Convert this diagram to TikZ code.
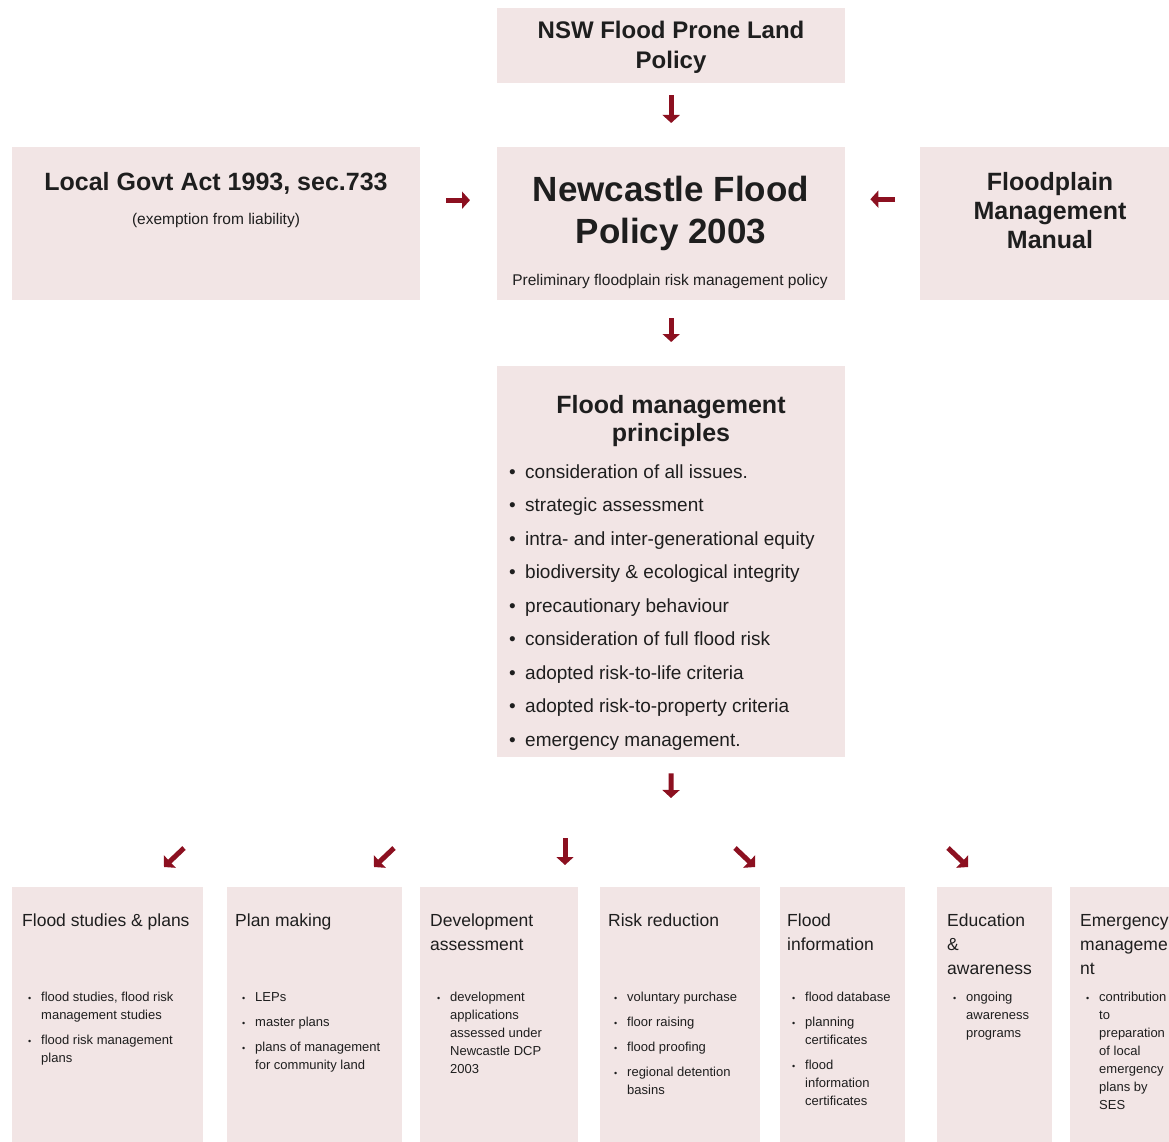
\documentclass[tikz,border=0pt]{standalone}
\usepackage{fontspec}
\setmainfont{Liberation Sans}
\usetikzlibrary{arrows.meta}
\definecolor{boxpink}{RGB}{242,229,229}
\definecolor{arrowred}{RGB}{140,16,32}
\definecolor{txt}{RGB}{30,30,30}
\newcommand\ctab[1]{\begin{tabular}[t]{@{}c@{}}#1\end{tabular}}
\newcommand\ltab[1]{\begin{tabular}[t]{@{}l@{}}#1\end{tabular}}
\newcommand\btab[1]{\begin{tabular}[t]{@{}l@{}l@{}}#1\end{tabular}}
\newcommand\bigbu{\makebox[16pt][l]{\textbullet}}
\newcommand\smbu{\makebox[13pt][l]{\fontsize{9}{9}\selectfont\textbullet}}
\begin{document}
\begin{tikzpicture}[x=1pt,y=-1pt,
  pbox/.style={fill=boxpink, draw=none, inner sep=0pt, anchor=north west},
  lbl/.style={inner sep=0pt, text=txt},
  arr/.style={draw=arrowred, line width=5pt, -{Triangle[length=8pt,width=17pt]}},
  ttl/.style={lbl, anchor=base west, font=\fontsize{17.5}{24}\selectfont},
  blst/.style={lbl, anchor=base west, font=\fontsize{13}{18}\selectfont},
]
\useasboundingbox (0,0) rectangle (1169,1142);
\clip (0,0) rectangle (1169,1142);
\fill[white] (0,0) rectangle (1169,1142);

% boxes
\node[pbox, minimum width=348pt, minimum height=75pt] (nsw) at (497,8) {};
\node[pbox, minimum width=408pt, minimum height=153pt] (lga) at (12,147) {};
\node[pbox, minimum width=348pt, minimum height=153pt] (nfp) at (497,147) {};
\node[pbox, minimum width=260pt, minimum height=153pt] (fmm) at (920,147) {};
\node[pbox, minimum width=348pt, minimum height=391pt] (fmp) at (497,366) {};
\node[pbox, minimum width=191pt, minimum height=263pt] (b1) at (12,887) {};
\node[pbox, minimum width=175pt, minimum height=263pt] (b2) at (227,887) {};
\node[pbox, minimum width=158pt, minimum height=263pt] (b3) at (420,887) {};
\node[pbox, minimum width=160pt, minimum height=263pt] (b4) at (600,887) {};
\node[pbox, minimum width=125pt, minimum height=263pt] (b5) at (780,887) {};
\node[pbox, minimum width=115pt, minimum height=263pt] (b6) at (937,887) {};
\node[pbox, minimum width=110pt, minimum height=263pt] (b7) at (1070,887) {};

% top texts
\node[lbl, anchor=base, font=\fontsize{24}{30}\selectfont\bfseries] (nswt) at (671,39) {\ctab{NSW Flood Prone Land\\Policy}};
\node[lbl, anchor=base, font=\fontsize{25}{29}\selectfont\bfseries] (lgat) at (216,190) {Local Govt Act 1993, sec.733};
\node[lbl, anchor=base, font=\fontsize{15.5}{18}\selectfont] (lgas) at (216,224) {(exemption from liability)};
\node[lbl, anchor=base, font=\fontsize{35}{42}\selectfont\bfseries] (nfpt) at (671,201) {\ctab{Newcastle Flood\\Policy 2003}};
\node[lbl, anchor=base, font=\fontsize{15.5}{18}\selectfont] (nfps) at (670,285) {Preliminary floodplain risk management policy};
\node[lbl, anchor=base, font=\fontsize{25}{29}\selectfont\bfseries] (fmmt) at (1050,190) {\ctab{Floodplain\\Management\\Manual}};

% principles
\node[lbl, anchor=base, font=\fontsize{25}{28}\selectfont\bfseries] (fmpt) at (671,413) {\ctab{Flood management\\principles}};
\node[lbl, anchor=base west, font=\fontsize{19}{33.5}\selectfont] (fmpl) at (509,478) {\btab{%
\bigbu & consideration of all issues.\\
\bigbu & strategic assessment\\
\bigbu & intra- and inter-generational equity\\
\bigbu & biodiversity \& ecological integrity\\
\bigbu & precautionary behaviour\\
\bigbu & consideration of full flood risk\\
\bigbu & adopted risk-to-life criteria\\
\bigbu & adopted risk-to-property criteria\\
\bigbu & emergency management.}};

% bottom titles
\node[ttl] (b1t) at (22,926) {\ltab{Flood studies \& plans}};
\node[ttl] (b2t) at (235,926) {\ltab{Plan making}};
\node[ttl] (b3t) at (430,926) {\ltab{Development\\assessment}};
\node[ttl] (b4t) at (608,926) {\ltab{Risk reduction}};
\node[ttl] (b5t) at (787,926) {\ltab{Flood\\information}};
\node[ttl] (b6t) at (947,926) {\ltab{Education\\\&\\awareness}};
\node[ttl] (b7t) at (1080,926) {\ltab{Emergency\\manageme\\nt}};

% bottom lists
\node[blst] (b1l) at (28,1001) {\btab{%
\smbu & flood studies, flood risk\\
 & management studies\\[7pt]
\smbu & flood risk management\\
 & plans}};
\node[blst] (b2l) at (242,1001) {\btab{%
\smbu & LEPs\\[7pt]
\smbu & master plans\\[7pt]
\smbu & plans of management\\
 & for community land}};
\node[blst] (b3l) at (437,1001) {\btab{%
\smbu & development\\
 & applications\\
 & assessed under\\
 & Newcastle DCP\\
 & 2003}};
\node[blst] (b4l) at (614,1001) {\btab{%
\smbu & voluntary purchase\\[7pt]
\smbu & floor raising\\[7pt]
\smbu & flood proofing\\[7pt]
\smbu & regional detention\\
 & basins}};
\node[blst] (b5l) at (792,1001) {\btab{%
\smbu & flood database\\[7pt]
\smbu & planning\\
 & certificates\\[7pt]
\smbu & flood\\
 & information\\
 & certificates}};
\node[blst] (b6l) at (953,1001) {\btab{%
\smbu & ongoing\\
 & awareness\\
 & programs}};
\node[blst] (b7l) at (1086,1001) {\btab{%
\smbu & contribution\\
 & to\\
 & preparation\\
 & of local\\
 & emergency\\
 & plans by\\
 & SES}};

% arrows
\draw[arr, shorten <=12pt, shorten >=24pt] (nsw.south) -- (nfp.north);
\draw[arr, shorten <=26pt, shorten >=27pt] ([yshift=23.5pt]lga.east) -- ([yshift=23.5pt]nfp.west);
\draw[arr, shorten <=25pt, shorten >=25pt] ([yshift=24.5pt]fmm.west) -- ([yshift=24.5pt]nfp.east);
\draw[arr, shorten <=18pt, shorten >=24pt] (nfp.south) -- (fmp.north);
\coordinate (split) at (671,798);
\draw[arr, shorten <=16pt] (fmp.south) -- (split);

\coordinate (t1) at (184,848); \coordinate (h1) at (164,867);
\coordinate (t2) at (394,848); \coordinate (h2) at (374,867);
\coordinate (t3) at (565,838); \coordinate (h3) at (565,865);
\coordinate (t4) at (735,848); \coordinate (h4) at (755,867);
\coordinate (t5) at (948,848); \coordinate (h5) at (968,867);
\draw[arr] (t1) -- (h1);
\draw[arr] (t2) -- (h2);
\draw[arr] (t3) -- (h3);
\draw[arr] (t4) -- (h4);
\draw[arr] (t5) -- (h5);
\end{tikzpicture}
\end{document}
